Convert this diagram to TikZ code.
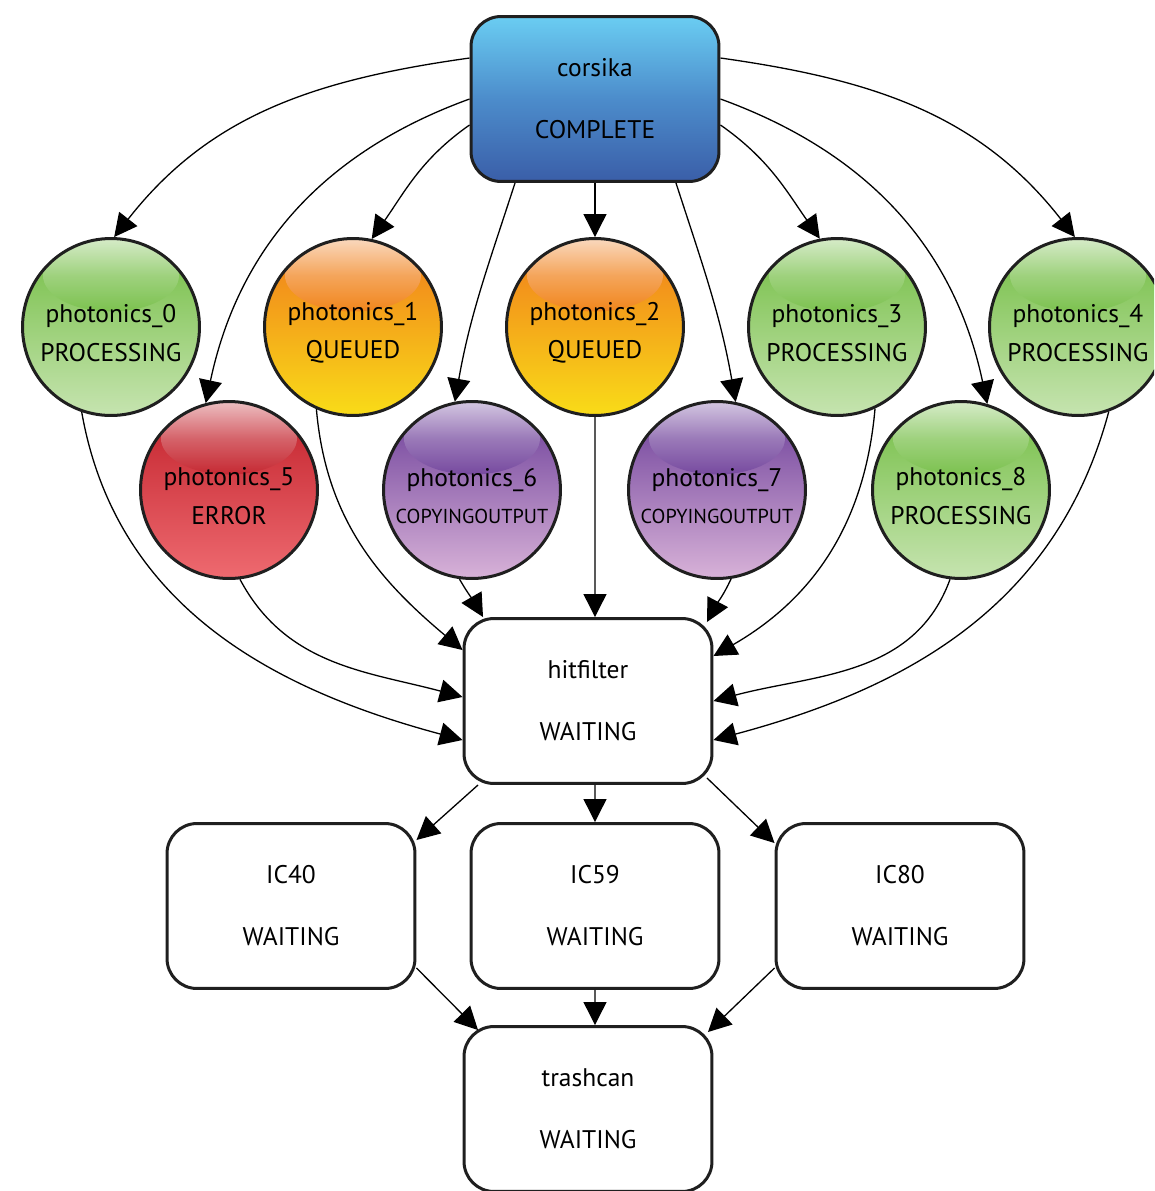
\documentclass[tikz,border=0pt]{standalone}
\usepackage{fontspec}
\setmainfont{PT Sans}
\usetikzlibrary{arrows.meta}
\definecolor{gbase}{HTML}{72BD42}
\definecolor{glight}{HTML}{C6E4B0}
\definecolor{obase}{HTML}{F07A1C}
\definecolor{olight}{HTML}{F9DC18}
\definecolor{rbase}{HTML}{C1202A}
\definecolor{rlight}{HTML}{EE6A70}
\definecolor{pbase}{HTML}{6A3C98}
\definecolor{plight}{HTML}{D8B2D8}
\definecolor{btop}{HTML}{6ACDF2}
\definecolor{bbot}{HTML}{3A5EA8}
\definecolor{bmid}{HTML}{4C8CCB}
\newcommand{\toplift}{\rule{0pt}{0.6cm}}
\tikzset{
  ball/.style n args={2}{circle, draw=black!88, line width=0.06cm, minimum size=3.54cm, inner sep=0pt,
    align=center, font=\fontsize{14.5}{17}\selectfont,
    path picture={
      \shade[top color=#1, middle color=#1, bottom color=#2]
        (path picture bounding box.north west) rectangle (path picture bounding box.south east);
      \shade[top color=white, bottom color=#1, middle color=#1!60!white, opacity=0.7]
        ([yshift=-0.74cm]path picture bounding box.north) ellipse (1.36cm and 0.72cm);
    }},
  box/.style={rectangle, rounded corners=0.6cm, draw=black!88, line width=0.06cm,
    minimum width=4.96cm, minimum height=3.3cm, align=center, fill=white,
    font=\fontsize{14.5}{17}\selectfont},
  arr/.style={line width=0.026cm, -{Triangle[length=0.46cm, width=0.46cm]}},
}
\begin{document}
\begin{tikzpicture}[x=0.02cm, y=-0.02cm]
\useasboundingbox (0,0) rectangle (1154,1191);
\clip (0,0) rectangle (1154,1191);
% nodes
\node[box, top color=btop, bottom color=bbot, middle color=bmid] (corsika) at (595,99) {corsika\\[0.64cm]COMPLETE};
\node[ball={gbase}{glight}] (p0) at (111,327) {\toplift photonics\_0\\[0.17cm]PROCESSING};
\node[ball={obase}{olight}] (p1) at (353,327) {\toplift photonics\_1\\[0.17cm]QUEUED};
\node[ball={obase}{olight}] (p2) at (595,327) {\toplift photonics\_2\\[0.17cm]QUEUED};
\node[ball={gbase}{glight}] (p3) at (837,327) {\toplift photonics\_3\\[0.17cm]PROCESSING};
\node[ball={gbase}{glight}] (p4) at (1078,327) {\toplift photonics\_4\\[0.17cm]PROCESSING};
\node[ball={rbase}{rlight}] (p5) at (229,490) {\toplift photonics\_5\\[0.17cm]ERROR};
\node[ball={pbase}{plight}] (p6) at (472,490) {\toplift photonics\_6\\[0.14cm]{\fontsize{11.5}{14}\selectfont COPYINGOUTPUT}};
\node[ball={pbase}{plight}] (p7) at (717,490) {\toplift photonics\_7\\[0.14cm]{\fontsize{11.5}{14}\selectfont COPYINGOUTPUT}};
\node[ball={gbase}{glight}] (p8) at (961,490) {\toplift photonics\_8\\[0.17cm]PROCESSING};
\node[box] (hit) at (588,701) {hitfilter\\[0.64cm]WAITING};
\node[box] (ic40) at (291,906) {IC40\\[0.64cm]WAITING};
\node[box] (ic59) at (595,906) {IC59\\[0.64cm]WAITING};
\node[box] (ic80) at (900,906) {IC80\\[0.64cm]WAITING};
\node[box] (trash) at (588,1109) {trashcan\\[0.64cm]WAITING};
% corsika -> photonics
\draw[arr] ([yshift=0.82cm]corsika.west) to[out=188, in=52] (p0.88);
\draw[arr] (corsika.west) to[out=200, in=78] (p5.105);
\draw[arr] ([yshift=-0.52cm]corsika.west) to[out=215, in=55] (p1.78);
\draw[arr] ([xshift=-1.6cm]corsika.south) to[out=252, in=80] (p6.101);
\draw[arr] (corsika.south) -- (p2.north);
\draw[arr] ([xshift=1.62cm]corsika.south) to[out=-72, in=100] (p7.78);
\draw[arr] ([yshift=-0.52cm]corsika.east) to[out=-35, in=125] (p3.101);
\draw[arr] (corsika.east) to[out=-20, in=102] (p8.73);
\draw[arr] ([yshift=0.82cm]corsika.east) to[out=-8, in=128] (p4.92);
% photonics -> hitfilter
\draw[arr] (p0.251) to[out=-80, in=165] ([yshift=-0.78cm]hit.west);
\draw[arr] (p5.277) to[out=-62, in=165] ([yshift=0.08cm]hit.west);
\draw[arr] (p1.246) to[out=-85, in=140] ([yshift=1.02cm]hit.west);
\draw[arr] (p6.262) to[out=-60, in=120] ([xshift=-2.1cm]hit.north);
\draw[arr] (p2.south) -- ([xshift=0.14cm]hit.north);
\draw[arr] (p7.279) to[out=-115, in=62] ([xshift=2.38cm, yshift=-0.1cm]hit.north);
\draw[arr] (p3.295) to[out=-95, in=30] ([yshift=0.9cm]hit.east);
\draw[arr] (p8.263) to[out=-110, in=15] (hit.east);
\draw[arr] (p4.290) to[out=-105, in=15] ([yshift=-0.78cm]hit.east);
% hitfilter -> IC
\draw[arr] ([xshift=-2.2cm]hit.south) -- ([yshift=1.32cm]ic40.east);
\draw[arr] ([xshift=0.14cm]hit.south) -- (ic59.north);
\draw[arr] ([xshift=2.38cm, yshift=0.14cm]hit.south) -- ([yshift=1.26cm]ic80.west);
% IC -> trashcan
\draw[arr] ([yshift=-1.24cm]ic40.east) -- ([xshift=-2.2cm, yshift=-0.1cm]trash.north);
\draw[arr] (ic59.south) -- ([xshift=0.14cm]trash.north);
\draw[arr] ([yshift=-1.24cm]ic80.west) -- ([xshift=2.4cm, yshift=-0.14cm]trash.north);
\end{tikzpicture}
\end{document}
